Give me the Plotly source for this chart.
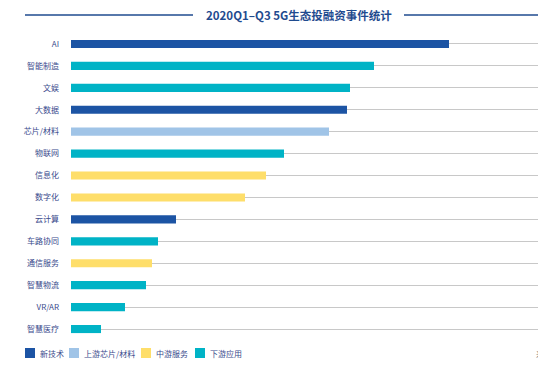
import plotly.graph_objects as go

categories = ["AI", "智能制造", "文娱", "大数据", "芯片/材料", "物联网", "信息化", "数字化",
              "云计算", "车路协同", "通信服务", "智慧物流", "VR/AR", "智慧医疗"]
values = [126, 101, 93, 92, 86, 71, 65, 58, 35, 29, 27, 25, 18, 10]
groups = ["新技术", "下游应用", "下游应用", "新技术", "上游芯片/材料", "下游应用", "中游服务", "中游服务",
          "新技术", "下游应用", "中游服务", "下游应用", "下游应用", "下游应用"]
group_names = ["新技术", "上游芯片/材料", "中游服务", "下游应用"]
group_colors = {"新技术": "#1c54a4", "上游芯片/材料": "#a0c4e7", "中游服务": "#fede6a", "下游应用": "#00b3c6"}

FONT = "Noto Sans CJK SC"
LABEL_COLOR = "#3a4a8c"

# layout geometry (pixels)
W, H = 538, 377
L, R, T, B = 71, 0, 33, 37
PW, PH = W - L - R, H - T - B


def px_x(px):
    return (px - L) / PW


def px_y(py):
    return (H - B - py) / PH


fig = go.Figure()
for g in group_names:
    ys = [c for c, gg in zip(categories, groups) if gg == g]
    xs = [v for v, gg in zip(values, groups) if gg == g]
    fig.add_trace(go.Bar(
        x=xs, y=ys, orientation="h", name=g,
        marker=dict(color=group_colors[g], line=dict(width=0)),
        width=0.37, showlegend=False,
    ))

fig.update_layout(
    width=W, height=H,
    margin=dict(l=L, r=R, t=T, b=B, autoexpand=False),
    paper_bgcolor="white", plot_bgcolor="white",
    barmode="overlay",
    font=dict(family=FONT, size=8, color=LABEL_COLOR),
    showlegend=False,
    xaxis=dict(range=[0, PW / 3], showgrid=False, zeroline=False, showticklabels=False,
               showline=False, ticks="", automargin=False),
    yaxis=dict(categoryorder="array", categoryarray=categories,
               range=[len(categories) - 0.5, -0.5], automargin=False,
               showgrid=True, gridcolor="#c8c8c8", gridwidth=1, showline=False, zeroline=False,
               ticks="", ticklabelstandoff=11,
               tickfont=dict(family=FONT, size=8, color=LABEL_COLOR)),
)

# title with side rules
title_py = 15
fig.add_annotation(text="<b>2020Q1–Q3 5G生态投融资事件统计</b>", xref="paper", yref="paper",
                   x=px_x(299), y=px_y(title_py), xanchor="center", yanchor="middle",
                   showarrow=False, font=dict(family=FONT, size=11.5, color="#1f4b8f"))
for x0, x1 in [(25, 193), (404, 538)]:
    fig.add_shape(type="line", xref="paper", yref="paper",
                  x0=px_x(x0), x1=px_x(x1), y0=px_y(title_py), y1=px_y(title_py),
                  line=dict(color="#1f4b8f", width=1.3))

# legend (swatch + label for each group)
legend_swatch_x = [25, 69, 141, 195]
legend_py = 353
for g, sx in zip(group_names, legend_swatch_x):
    fig.add_shape(type="rect", xref="paper", yref="paper",
                  x0=px_x(sx), x1=px_x(sx + 10), y0=px_y(legend_py - 5), y1=px_y(legend_py + 5),
                  fillcolor=group_colors[g], line=dict(width=0))
    fig.add_annotation(text=g, xref="paper", yref="paper",
                       x=px_x(sx + 13), y=px_y(legend_py), xanchor="left", yanchor="middle",
                       showarrow=False, font=dict(family=FONT, size=8, color=LABEL_COLOR))

# source note (cut at the right edge, as in the reference)
fig.add_annotation(text="来源：", xref="paper", yref="paper",
                   x=px_x(534), y=px_y(legend_py), xanchor="left", yanchor="middle",
                   showarrow=False, font=dict(family=FONT, size=8, color="#777777"))

fig.write_html("out.html", config={"displayModeBar": False},
               post_script="document.body.style.margin='0';")
